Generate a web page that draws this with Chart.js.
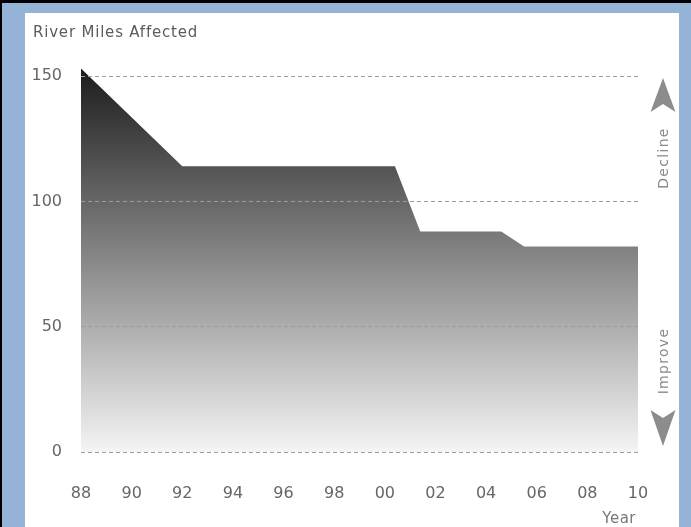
<!DOCTYPE html>
<html><head><meta charset="utf-8">
<script src="https://cdn.jsdelivr.net/npm/chart.js@4"></script>
<style>
html,body{margin:0;padding:0;width:691px;height:527px;overflow:hidden;background:#95b3d7;}
#frame{position:absolute;left:0;top:0;width:691px;height:527px;box-sizing:border-box;border-top:3px solid #000;border-left:2px solid #000;background:#95b3d7;}
#panel{position:absolute;left:25px;top:13px;width:654px;height:514px;background:#fff;}
#c{position:absolute;left:0;top:0;}
</style></head><body>
<div id="frame"></div><div id="panel"></div>
<canvas id="c" width="691" height="527"></canvas>
<script>
// ---- data ----
const years = [1988, 1992, 2000.4, 2001.4, 2004.6, 2005.5, 2010];
const riverMiles = [153, 114, 114, 88, 88, 82, 82];
const xTickYears = [1988, 1990, 1992, 1994, 1996, 1998, 2000, 2002, 2004, 2006, 2008, 2010];
const yTickValues = [0, 50, 100, 150];
const yAxisTitle = 'River Miles Affected';
const xAxisTitle = 'Year';
const upLabel = 'Decline';
const downLabel = 'Improve';

const decor = {
  id: 'decor',
  afterDraw(chart) {
    const c = chart.ctx;
    c.save();
    c.fillStyle = '#5c5c5c';
    c.font = '15px "DejaVu Sans"';
    c.letterSpacing = '0.8px';
    c.textAlign = 'left';
    c.textBaseline = 'alphabetic';
    c.fillText(yAxisTitle, 33, 37);
    c.fillStyle = '#777';
    c.letterSpacing = '0.5px';
    c.textAlign = 'right';
    c.fillText(xAxisTitle, 636, 523);
    const ax = 663;
    c.fillStyle = '#8c8c8c';
    c.beginPath(); c.moveTo(ax, 78); c.lineTo(ax + 12.5, 112); c.lineTo(ax, 104); c.lineTo(ax - 12.5, 112); c.closePath(); c.fill();
    c.beginPath(); c.moveTo(ax, 446); c.lineTo(ax + 12.5, 410); c.lineTo(ax, 418); c.lineTo(ax - 12.5, 410); c.closePath(); c.fill();
    c.font = '14px "DejaVu Sans"';
    c.letterSpacing = '1.3px';
    c.fillStyle = '#8a8a8a';
    c.textAlign = 'center';
    c.textBaseline = 'middle';
    c.save(); c.translate(664, 158); c.rotate(-Math.PI / 2); c.fillText(upLabel, 0, 0); c.restore();
    c.save(); c.translate(664, 361); c.rotate(-Math.PI / 2); c.fillText(downLabel, 0, 0); c.restore();
    c.restore();
  }
};

new Chart(document.getElementById('c'), {
  type: 'line',
  data: {
    datasets: [{
      data: years.map((y, i) => ({ x: y, y: riverMiles[i] })),
      fill: 'origin',
      borderWidth: 0,
      pointRadius: 0,
      tension: 0,
      backgroundColor: (ctx) => {
        const chart = ctx.chart;
        const { chartArea, scales } = chart;
        if (!chartArea) return '#888';
        const top = scales.y.getPixelForValue(Math.max(...riverMiles));
        const bottom = scales.y.getPixelForValue(0);
        const g = chart.ctx.createLinearGradient(0, top, 0, bottom);
        g.addColorStop(0, '#1c1c1c');
        g.addColorStop(1, '#f4f4f4');
        return g;
      }
    }]
  },
  options: {
    responsive: false,
    animation: false,
    devicePixelRatio: 1,
    layout: { padding: { top: 51, right: 53, left: 0, bottom: 0 } },
    plugins: { legend: { display: false }, tooltip: { enabled: false } },
    scales: {
      x: {
        type: 'linear',
        min: 1988, max: 2010,
        afterBuildTicks: (s) => { s.ticks = xTickYears.map(v => ({ value: v })); },
        afterFit: (s) => { s.height = 75; },
        grid: { display: false, drawTicks: false },
        border: { display: false },
        ticks: {
          padding: 32,
          color: '#666',
          font: { family: 'DejaVu Sans', size: 16 },
          maxRotation: 0,
          autoSkip: false,
          callback: (v) => String(v % 100).padStart(2, '0')
        }
      },
      y: {
        min: 0, max: 160,
        z: 1,
        afterBuildTicks: (s) => { s.ticks = yTickValues.map(v => ({ value: v })); },
        afterFit: (s) => { s.width = 81; },
        grid: { color: '#9c9c9c', drawTicks: false, lineWidth: 1, z: 1 },
        border: { display: false, dash: [4, 3] },
        ticks: {
          padding: 19,
          color: '#666',
          font: { family: 'DejaVu Sans', size: 16 }
        }
      }
    }
  },
  plugins: [decor]
});
</script>
</body></html>
